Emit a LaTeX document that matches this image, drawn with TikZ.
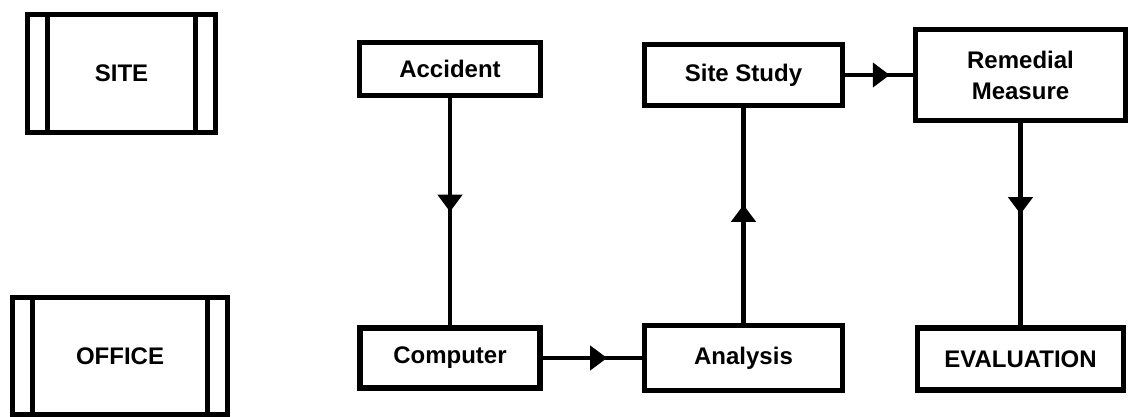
\documentclass[tikz,border=0pt]{standalone}
\usepackage{fontspec}
\setmainfont{Liberation Sans}
\usetikzlibrary{arrows.meta,positioning,decorations.markings}

\tikzset{
  box/.style={draw,line width=2.75pt,fill=white,inner sep=2pt,
    font=\bfseries\fontsize{12}{15.5}\selectfont,align=center},
  placebox/.style={box,path picture={
      \draw[line width=2.75pt]
        ([xshift=10pt]path picture bounding box.north west)
          -- ([xshift=10pt]path picture bounding box.south west)
        ([xshift=-10pt]path picture bounding box.north east)
          -- ([xshift=-10pt]path picture bounding box.south east);}},
  flow/.style={line width=2.25pt,postaction={decorate},
    decoration={markings,
      mark=at position #1 with {\arrow{Triangle[length=8.5pt,width=12pt]}}}},
  flow/.default=0.55
}

\begin{document}
\begin{tikzpicture}[x=0.5pt,y=-0.5pt]
  \useasboundingbox (0,0) rectangle (1132,417);

  % where the work happens
  \node[placebox,minimum width=94pt,minimum height=59pt]
    (site) at (121.5,73.5) {SITE};
  \node[placebox,minimum width=107.5pt,minimum height=58.5pt]
    (office) at (120,356) {OFFICE};

  % the loop itself
  \node[box,minimum width=90.5pt,minimum height=26.5pt]
    (accident) at (450,69) {Accident};
  \node[box,minimum width=90pt,minimum height=30pt]
    (computer) at (450,358) {Computer};
  \node[box,minimum width=99pt,minimum height=30.5pt]
    (sitestudy) at (743.5,75) {Site Study};
  \node[box,minimum width=99pt,minimum height=32.5pt]
    (analysis) at (743.5,358) {Analysis};
  \node[box,minimum width=105pt,minimum height=45.5pt]
    (remedial) at (1020.5,75) {Remedial\\Measure};
  \node[box,minimum width=103pt,minimum height=31pt]
    (evaluation) at (1020.5,359) {EVALUATION};

  \draw[flow=0.5]  (accident)  -- (computer);
  \draw[flow=0.65] (computer)  -- (analysis);
  \draw[flow=0.55] (analysis)  -- (sitestudy);
  \draw[flow=0.66] (sitestudy) -- (remedial);
  \draw[flow=0.45] (remedial)  -- (evaluation);
\end{tikzpicture}
\end{document}
